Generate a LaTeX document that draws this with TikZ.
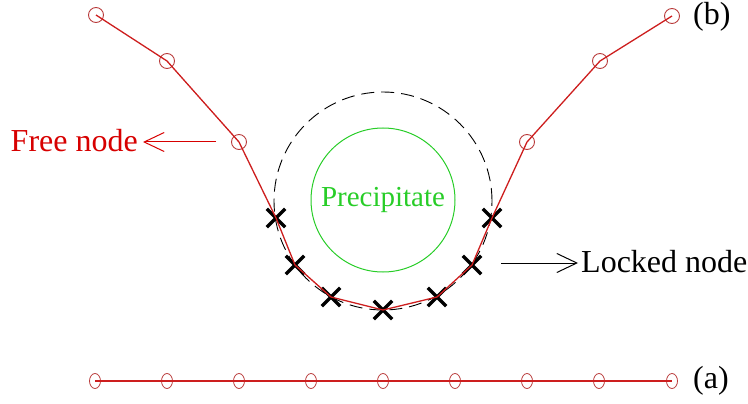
\documentclass[tikz,border=0pt]{standalone}
\usepackage{fontspec}
\setmainfont{Liberation Serif}
\usetikzlibrary{shapes.misc,shapes.geometric,arrows.meta}
\definecolor{linered}{RGB}{205,30,30}
\definecolor{nodered}{RGB}{185,60,60}
\definecolor{txtred}{RGB}{215,0,0}
\definecolor{pgreen}{RGB}{40,205,40}
\begin{document}
\begin{tikzpicture}[x=1pt,y=-1pt,
 freenode/.style={circle,draw=nodered,line width=0.9pt,minimum size=15pt,inner sep=0pt},
 flatnode/.style={ellipse,draw=nodered,line width=0.8pt,minimum width=11pt,minimum height=15pt,inner sep=0pt},
 lockednode/.style={cross out,draw=black,line width=3.3pt,minimum size=15pt,inner sep=0pt},
 chainline/.style={draw=linered,line width=1.3pt},
 flatline/.style={draw=linered,line width=2.4pt},
 lbl/.style={font=\rmfamily\fontsize{32}{36}\selectfont,inner sep=0pt},
 pointer/.style={-{Straight Barb[length=20pt,width=19pt,line width=1pt]},line width=1pt}]
\useasboundingbox (0,0) rectangle (748,404);
% precipitate and halo
\node[circle,draw=black,line width=0.9pt,dash pattern=on 13pt off 7pt,minimum size=218pt,inner sep=0pt] (halo) at (383,201) {};
\node[circle,draw=pgreen,line width=1pt,minimum size=144pt,inner sep=0pt,text=pgreen,font=\rmfamily\fontsize{29}{34}\selectfont] (ppt) at (383,200) {Precipitate};
% deformed chain (b)
\node[freenode] (b1) at (96,15) {};
\node[freenode] (b2) at (167,61) {};
\node[freenode] (b3) at (239,142) {};
\node[lockednode] (b4) at (276,218) {};
\node[lockednode] (b5) at (295,265) {};
\node[lockednode] (b6) at (331,297) {};
\node[lockednode] (b7) at (383,310) {};
\node[lockednode] (b8) at (437,297) {};
\node[lockednode] (b9) at (472,265) {};
\node[lockednode] (b10) at (492,218) {};
\node[freenode] (b11) at (527,142) {};
\node[freenode] (b12) at (600,61) {};
\node[freenode] (b13) at (672,16) {};
\draw[chainline] (b1.center) -- (b2.center) -- (b3.center) -- (b4.center) -- (b5.center) -- (b6.center) -- (b7.center) -- (b8.center) -- (b9.center) -- (b10.center) -- (b11.center) -- (b12.center) -- (b13.center);
% straight chain (a)
\foreach \i/\x in {1/95,2/167,3/239,4/311,5/383,6/455,7/527,8/599,9/672}{
  \node[flatnode] (a\i) at (\x,381) {};
}
\draw[flatline] (a1.center) -- (a9.center);
% labels
\node[lbl,anchor=west] (lb) at (693,17) {(b)};
\node[lbl,anchor=west] (la) at (693,381) {(a)};
\node[lbl,anchor=east,text=txtred] (freetxt) at (138,141) {Free node};
\node[lbl,anchor=west] (locktxt) at (581,262) {Locked node};
\coordinate (fstart) at (216,142);
\coordinate (lstart) at (501,263);
\draw[pointer,txtred] (fstart) -- ([xshift=5pt]freetxt.east |- fstart);
\draw[pointer,black] (lstart) -- ([xshift=-3pt]locktxt.west |- lstart);
\end{tikzpicture}
\end{document}
